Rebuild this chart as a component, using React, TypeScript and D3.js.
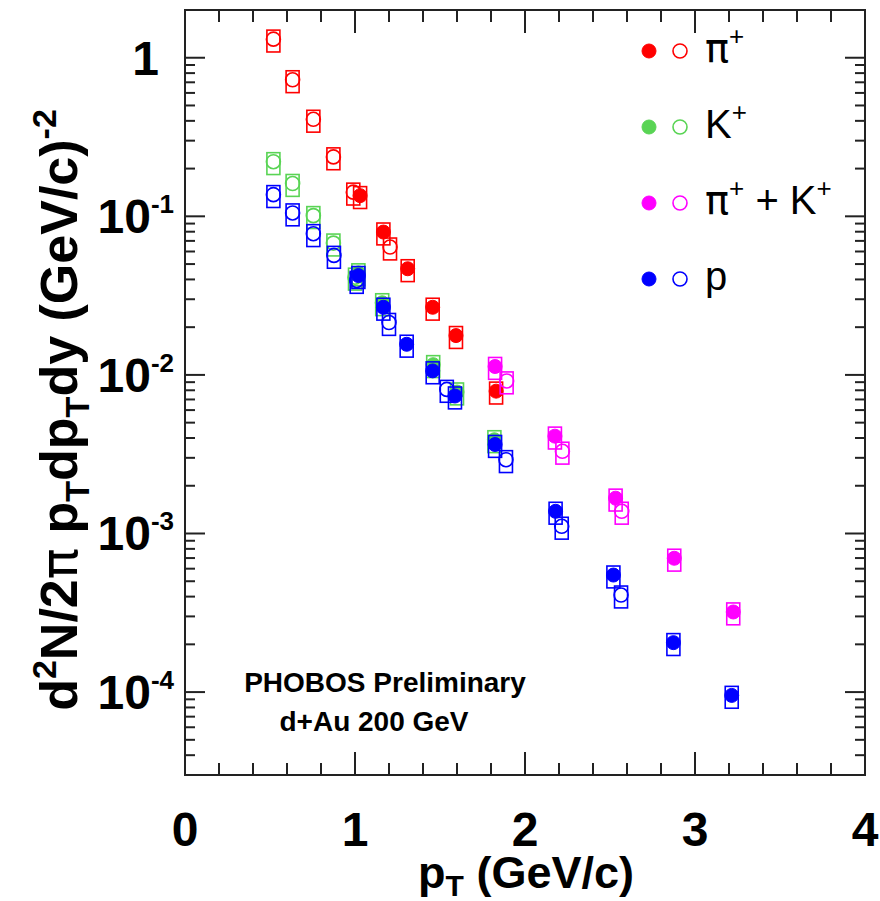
import React from "react";
import * as d3 from "d3";

// Invariant yields, d+Au at 200 GeV (PHOBOS preliminary)
// Positive pions
const pionFilledPt = [1.03, 1.167, 1.31, 1.457, 1.594, 1.83];
const pionFilledY = [0.135, 0.0796, 0.0467, 0.0267, 0.0177, 0.0079];
const pionOpenPt = [0.52, 0.633, 0.755, 0.873, 0.99, 1.206];
const pionOpenY = [1.31, 0.726, 0.409, 0.237, 0.142, 0.064];

// Positive kaons
const kaonFilledPt = [1.02, 1.16, 1.46, 1.6, 1.82];
const kaonFilledY = [0.044, 0.0285, 0.0116, 0.0078, 0.0039];
const kaonOpenPt = [0.52, 0.633, 0.755, 0.873, 1.0];
const kaonOpenY = [0.221, 0.161, 0.101, 0.0678, 0.0413];

// Unidentified pi+ + K+
const comboFilledPt = [1.824, 2.176, 2.533, 2.878, 3.225];
const comboFilledY = [0.0113, 0.00411, 0.00167, 0.000698, 0.00032];
const comboOpenPt = [1.892, 2.22, 2.569];
const comboOpenY = [0.00916, 0.0033, 0.00138];

// Protons
const protonFilledPt = [1.02, 1.167, 1.304, 1.457, 1.588, 1.824, 2.18, 2.52, 2.873, 3.216];
const protonFilledY = [0.0423, 0.0267, 0.0156, 0.0106, 0.00736, 0.00364, 0.00138, 0.000547, 0.000205, 0.0000953];
const protonOpenPt = [0.52, 0.633, 0.755, 0.876, 1.01, 1.2, 1.54, 1.888, 2.216, 2.565];
const protonOpenY = [0.137, 0.105, 0.0777, 0.0567, 0.0394, 0.0214, 0.0081, 0.00292, 0.00111, 0.000409];

// Relative systematic uncertainty (upper / lower)
const sysUp = 0.14;
const sysDown = 0.17;

const xTickLabels = ["0", "1", "2", "3", "4"];
const yDecadeLabels = [
  { v: 1, base: "1", exp: "" },
  { v: 1e-1, base: "10", exp: "-1" },
  { v: 1e-2, base: "10", exp: "-2" },
  { v: 1e-3, base: "10", exp: "-3" },
  { v: 1e-4, base: "10", exp: "-4" },
];

const W = 880;
const H = 901;
const FONT = "'Liberation Sans', Arial, Helvetica, sans-serif";
const GREEK = "'DejaVu Sans', sans-serif";

const RED = "#ff0000";
const GREEN = "#59d454";
const MAGENTA = "#ff00ff";
const BLUE = "#0000ff";

type Series = { pt: number[]; val: number[]; color: string; filled: boolean };

const seriesList: Series[] = [
  { pt: pionFilledPt, val: pionFilledY, color: RED, filled: true },
  { pt: pionOpenPt, val: pionOpenY, color: RED, filled: false },
  { pt: kaonFilledPt, val: kaonFilledY, color: GREEN, filled: true },
  { pt: kaonOpenPt, val: kaonOpenY, color: GREEN, filled: false },
  { pt: comboFilledPt, val: comboFilledY, color: MAGENTA, filled: true },
  { pt: comboOpenPt, val: comboOpenY, color: MAGENTA, filled: false },
  { pt: protonFilledPt, val: protonFilledY, color: BLUE, filled: true },
  { pt: protonOpenPt, val: protonOpenY, color: BLUE, filled: false },
];

const legendItems = [
  { color: RED, label: "pi" },
  { color: GREEN, label: "K" },
  { color: MAGENTA, label: "piK" },
  { color: BLUE, label: "p" },
];

export default function App() {
  const left = 185, right = 865, top = 10, bottom = 775;
  const x = d3.scaleLinear().domain([0, 4]).range([left, right]);
  const y = d3.scaleLog().domain([3e-5, 2]).range([bottom, top]);

  const xMinor = d3.range(0, 4.0001, 0.2);
  const xMajor = d3.range(0, 5, 1);
  const yTicks = y.ticks();
  const isDecade = (v: number) => Math.abs(Math.log10(v) - Math.round(Math.log10(v))) < 1e-6;

  const boxW = 13;
  const r = 7;

  const legendRows = [51, 127, 203, 279];

  return (
    <svg
      width={W}
      height={H}
      style={{ position: "absolute", left: 0, top: 0, background: "#fff" }}
      fontFamily={FONT}
    >
      <rect x={0} y={0} width={W} height={H} fill="#fff" />

      {/* data: systematic boxes and markers */}
      {seriesList.map((s, si) => (
        <g key={si}>
          {s.pt.map((p, i) => {
            const cx = x(p);
            const cy = y(s.val[i]);
            const yTop = y(s.val[i] * (1 + sysUp));
            const yBot = y(s.val[i] * (1 - sysDown));
            return (
              <g key={i}>
                <rect
                  x={cx - boxW / 2}
                  y={yTop}
                  width={boxW}
                  height={yBot - yTop}
                  fill="none"
                  stroke={s.color}
                  strokeWidth={1.6}
                />
                <circle
                  cx={cx}
                  cy={cy}
                  r={r}
                  fill={s.filled ? s.color : "none"}
                  stroke={s.color}
                  strokeWidth={s.filled ? 1 : 1.6}
                />
              </g>
            );
          })}
        </g>
      ))}

      {/* frame */}
      <rect x={left} y={top} width={right - left} height={bottom - top} fill="none" stroke="#222" strokeWidth={2} />

      {/* x ticks */}
      {xMinor.map((t, i) => {
        const major = Math.abs(t - Math.round(t)) < 1e-6;
        const len = major ? 23 : 12;
        return (
          <g key={i} stroke="#222" strokeWidth={2}>
            <line x1={x(t)} x2={x(t)} y1={bottom} y2={bottom - len} />
            <line x1={x(t)} x2={x(t)} y1={top} y2={top + len} />
          </g>
        );
      })}

      {/* y ticks */}
      {yTicks.map((t, i) => {
        const len = isDecade(t) ? 20 : 10;
        const yy = y(t);
        return (
          <g key={i} stroke="#222" strokeWidth={2}>
            <line x1={left} x2={left + len} y1={yy} y2={yy} />
            <line x1={right} x2={right - len} y1={yy} y2={yy} />
          </g>
        );
      })}

      {/* x tick labels */}
      {xMajor.map((t, i) => (
        <text key={i} x={x(t)} y={846} textAnchor="middle" fontSize={48} fontWeight="bold" fill="#000">
          {xTickLabels[i]}
        </text>
      ))}

      {/* y tick labels */}
      {yDecadeLabels.map((d, i) => {
        const yy = y(d.v) + 17;
        if (!d.exp) {
          return (
            <text key={i} x={159} y={yy} textAnchor="end" fontSize={48} fontWeight="bold" fill="#000">
              {d.base}
            </text>
          );
        }
        return (
          <text key={i} x={174} y={yy} textAnchor="end" fontSize={48} fontWeight="bold" fill="#000">
            {d.base}
            <tspan fontSize={26} dy={-20}>{d.exp}</tspan>
          </text>
        );
      })}

      {/* x axis title */}
      <text x={526} y={888} textAnchor="middle" fontSize={45} fontWeight="bold" fill="#000">
        p<tspan fontSize={30} dy={8}>T</tspan>
        <tspan dy={-8}> (GeV/c)</tspan>
      </text>

      {/* y axis title */}
      <text
        transform="translate(77,410) rotate(-90)"
        textAnchor="middle"
        fontSize={52}
        fontWeight="bold"
        fill="#000"
      >
        d<tspan fontSize={34} dy={-21}>2</tspan>
        <tspan dy={21}>N/2</tspan>
        <tspan fontFamily={GREEK} fontWeight="normal">π</tspan>
        <tspan> p</tspan>
        <tspan fontSize={34} dy={12}>T</tspan>
        <tspan dy={-12}>dp</tspan>
        <tspan fontSize={34} dy={12}>T</tspan>
        <tspan dy={-12}>dy (GeV/c)</tspan>
        <tspan fontSize={34} dy={-21}>-2</tspan>
      </text>

      {/* annotation */}
      <text x={385} y={692} textAnchor="middle" fontSize={28} fontWeight="bold" fill="#000">
        PHOBOS Preliminary
      </text>
      <text x={374} y={731} textAnchor="middle" fontSize={28} fontWeight="bold" fill="#000">
        d+Au 200 GeV
      </text>

      {/* legend */}
      {legendItems.map((it, i) => {
        const ly = legendRows[i];
        return (
          <g key={i}>
            <circle cx={649} cy={ly} r={7} fill={it.color} stroke={it.color} />
            <circle cx={680} cy={ly} r={7} fill="none" stroke={it.color} strokeWidth={1.6} />
            <text x={705} y={ly + 11} fontSize={40} fill="#000">
              {it.label === "pi" && (
                <>
                  <tspan fontFamily={GREEK}>π</tspan>
                  <tspan fontSize={26} dy={-17}>+</tspan>
                </>
              )}
              {it.label === "K" && (
                <>
                  K<tspan fontSize={26} dy={-17}>+</tspan>
                </>
              )}
              {it.label === "piK" && (
                <>
                  <tspan fontFamily={GREEK}>π</tspan>
                  <tspan fontSize={26} dy={-17}>+</tspan>
                  <tspan dy={17}>{"\u00a0+\u00a0K"}</tspan>
                  <tspan fontSize={26} dy={-17}>+</tspan>
                </>
              )}
              {it.label === "p" && <>p</>}
            </text>
          </g>
        );
      })}
    </svg>
  );
}
